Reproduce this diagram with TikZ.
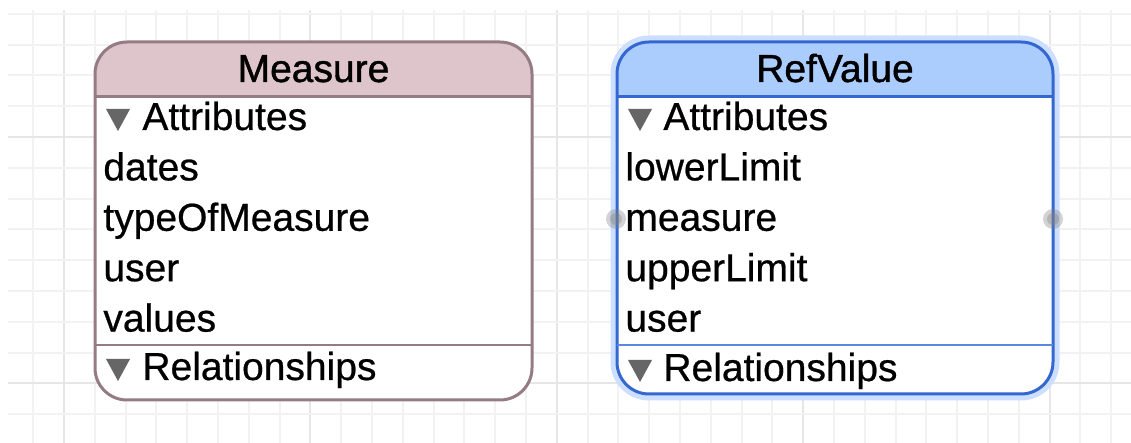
\documentclass[tikz,border=0pt]{standalone}
\usepackage{fontspec}
\setmainfont{Liberation Sans}
\newfontfamily\rowfont{Liberation Sans}[FakeBold=0.6]
\newfontfamily\titlefont{Liberation Sans}[FakeBold=1.1]
\definecolor{gridminor}{HTML}{F2F2F2}
\definecolor{gridmajor}{HTML}{E6E6E6}
\definecolor{measureborder}{HTML}{957B84}
\definecolor{measurefill}{HTML}{DEC4CB}
\definecolor{refborder}{HTML}{3468D0}
\definecolor{refrule}{HTML}{5A88DD}
\definecolor{reffill}{HTML}{ABCDFE}
\definecolor{refglow}{HTML}{CCDFFF}
\definecolor{disclosure}{HTML}{666666}
\newcommand{\entityframe}[5]{
  \begin{scope}
    \clip (#2,42) rectangle (#3,97);
    \fill[#5head,rounded corners=16] (#2,42) rectangle (#3,#4);
  \end{scope}
  \draw[#5line,rounded corners=16] (#2,42) rectangle (#3,#4);
  \draw[#5line] (#2,97) -- (#3,97);
  \draw[#5rule] (#2,345) -- (#3,345);
  \node[title] (#1) at ({(#2+#3)/2},82) {#1};
}
\newcommand{\disclosure}[2]{
  \fill[disclosure] (#1,#2-21) -- ++(24,0) -- ++(-12,22) -- cycle;
}

\begin{document}
\begin{tikzpicture}[
  x=0.5pt,y=-0.5pt,
  every node/.style={inner sep=0pt,font=\rowfont\fontsize{19.5}{23}\selectfont},
  title/.style={anchor=base,font=\titlefont\fontsize{19.5}{23}\selectfont},
  row/.style={anchor=base west},
  gridline/.style={draw=gridminor,line width=1pt},
  majorline/.style={draw=gridmajor,line width=1pt},
  measurehead/.style={fill=measurefill},
  measureline/.style={draw=measureborder,line width=1.5pt},
  measurerule/.style={draw=measureborder,line width=1pt},
  refhead/.style={fill=reffill},
  refline/.style={draw=refborder,line width=1.5pt},
  refrule/.style={draw=refrule,line width=1pt},
  handle/.style={fill=gray,opacity=0.35},
  ]
  \useasboundingbox (0,0) rectangle (1131,443);
  % grid
  \foreach \gx in {0,...,35}{
    \pgfmathparse{int(mod(\gx,8))}
    \ifnum\pgfmathresult=1
      \draw[majorline] ({33.2+30.8*\gx},10) -- ({33.2+30.8*\gx},443);
    \else
      \draw[gridline] ({33.2+30.8*\gx},10) -- ({33.2+30.8*\gx},443);
    \fi
  }
  \foreach \gy in {0,...,13}{
    \pgfmathparse{int(mod(\gy,8))}
    \ifnum\pgfmathresult=4
      \draw[majorline] (8,{13.8+30.8*\gy}) -- (1131,{13.8+30.8*\gy});
    \else
      \draw[gridline] (8,{13.8+30.8*\gy}) -- (1131,{13.8+30.8*\gy});
    \fi
  }

  % Measure
  \fill[white,rounded corners=16] (95,42) rectangle (532,400);
  \entityframe{Measure}{95}{532}{400}{measure}
  \disclosure{106}{130}
  \node[row] (measure-attr) at (142,130) {Attributes};
  \foreach \attr [count=\i] in {dates,typeOfMeasure,user,values}
    \node[row] (measure-\i) at (103,{130+50.4*\i}) {\attr};
  \disclosure{106}{380}
  \node[row] (measure-rel) at (142,380) {Relationships};

  % RefValue
  \draw[refglow,line width=6.5pt,rounded corners=16] (617,42) rectangle (1053,394);
  \fill[white,rounded corners=16] (617,42) rectangle (1053,394);
  \entityframe{RefValue}{617}{1053}{394}{ref}
  \disclosure{628}{130}
  \node[row] (ref-attr) at (663,130) {Attributes};
  \foreach \attr [count=\i] in {lowerLimit,measure,upperLimit,user}
    \node[row] (ref-\i) at (625,{130+50.4*\i}) {\attr};
  \disclosure{628}{381}
  \node[row] (ref-rel) at (663,381) {Relationships};
  \foreach \hx in {616,1053}{
    \fill[handle] (\hx,219) circle (10);
    \fill[handle] (\hx,219) circle (6);
  }
\end{tikzpicture}
\end{document}
